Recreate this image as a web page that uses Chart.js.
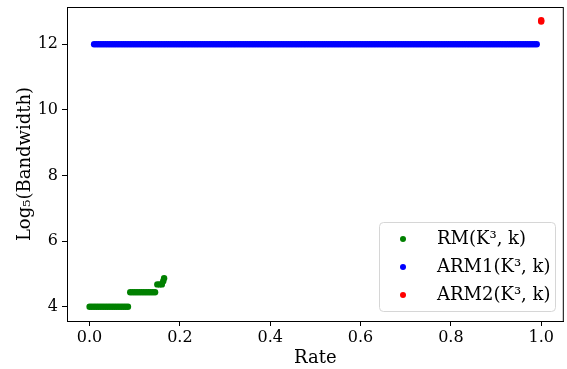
<!DOCTYPE html>
<html>
<head>
<meta charset="utf-8">
<script src="https://cdn.jsdelivr.net/npm/chart.js@4/dist/chart.umd.min.js"></script>
<style>
  html, body { margin: 0; padding: 0; background: #fff; }
  #wrap { width: 567px; height: 369px; }
</style>
</head>
<body>
<div id="wrap"><canvas id="chart" width="567" height="369"></canvas></div>
<script>
// values
const rmRate = [0, 0.005, 0.01, 0.015, 0.02, 0.025, 0.03, 0.035, 0.04, 0.045, 0.05, 0.055, 0.06, 0.065, 0.07, 0.075, 0.08, 0.085,
                0.09, 0.095, 0.1, 0.105, 0.11, 0.115, 0.12, 0.125, 0.13, 0.135, 0.14, 0.145,
                0.15, 0.155, 0.16, 0.163, 0.165];
const rmBw = [4, 4, 4, 4, 4, 4, 4, 4, 4, 4, 4, 4, 4, 4, 4, 4, 4, 4,
              4.44, 4.44, 4.44, 4.44, 4.44, 4.44, 4.44, 4.44, 4.44, 4.44, 4.44, 4.44,
              4.68, 4.68, 4.68, 4.78, 4.87];
const arm1Rate = [0.01, 0.015, 0.02, 0.025, 0.03, 0.035, 0.04, 0.045, 0.05, 0.055, 0.06, 0.065, 0.07, 0.075, 0.08, 0.085, 0.09, 0.095, 0.1,
                  0.105, 0.11, 0.115, 0.12, 0.125, 0.13, 0.135, 0.14, 0.145, 0.15, 0.155, 0.16, 0.165, 0.17, 0.175, 0.18, 0.185, 0.19, 0.195, 0.2,
                  0.205, 0.21, 0.215, 0.22, 0.225, 0.23, 0.235, 0.24, 0.245, 0.25, 0.255, 0.26, 0.265, 0.27, 0.275, 0.28, 0.285, 0.29, 0.295, 0.3,
                  0.305, 0.31, 0.315, 0.32, 0.325, 0.33, 0.335, 0.34, 0.345, 0.35, 0.355, 0.36, 0.365, 0.37, 0.375, 0.38, 0.385, 0.39, 0.395, 0.4,
                  0.405, 0.41, 0.415, 0.42, 0.425, 0.43, 0.435, 0.44, 0.445, 0.45, 0.455, 0.46, 0.465, 0.47, 0.475, 0.48, 0.485, 0.49, 0.495, 0.5,
                  0.505, 0.51, 0.515, 0.52, 0.525, 0.53, 0.535, 0.54, 0.545, 0.55, 0.555, 0.56, 0.565, 0.57, 0.575, 0.58, 0.585, 0.59, 0.595, 0.6,
                  0.605, 0.61, 0.615, 0.62, 0.625, 0.63, 0.635, 0.64, 0.645, 0.65, 0.655, 0.66, 0.665, 0.67, 0.675, 0.68, 0.685, 0.69, 0.695, 0.7,
                  0.705, 0.71, 0.715, 0.72, 0.725, 0.73, 0.735, 0.74, 0.745, 0.75, 0.755, 0.76, 0.765, 0.77, 0.775, 0.78, 0.785, 0.79, 0.795, 0.8,
                  0.805, 0.81, 0.815, 0.82, 0.825, 0.83, 0.835, 0.84, 0.845, 0.85, 0.855, 0.86, 0.865, 0.87, 0.875, 0.88, 0.885, 0.89, 0.895, 0.9,
                  0.905, 0.91, 0.915, 0.92, 0.925, 0.93, 0.935, 0.94, 0.945, 0.95, 0.955, 0.96, 0.965, 0.97, 0.975, 0.98, 0.985, 0.99];
const arm1Bw = arm1Rate.map(() => 12);
const arm2Rate = [1.0, 1.0];
const arm2Bw = [12.69, 12.73];

const seriesNames = ['RM(K\u00b3, k)', 'ARM1(K\u00b3, k)', 'ARM2(K\u00b3, k)'];
const seriesColors = ['#008000', '#0000ff', '#ff0000'];
const xTicks = [0, 0.2, 0.4, 0.6, 0.8, 1.0];
const yTicks = [4, 6, 8, 10, 12];

const serif = "'DejaVu Serif', serif";

function toPoints(xs, ys) {
    return xs.map((x, i) => ({x: x, y: ys[i]}));
}

// matplotlib-style frame and legend box inside the axes
const frameAndLegend = {
    id: 'frameAndLegend',
    afterDraw(chart) {
        const {ctx, chartArea} = chart;
        ctx.save();
        ctx.strokeStyle = '#000';
        ctx.lineWidth = 1;
        ctx.strokeRect(chartArea.left + 0.5, chartArea.top + 0.5,
            chartArea.right - chartArea.left - 1, chartArea.bottom - chartArea.top);

        const bx = 379, by = 222, bw = 176, bh = 89;
        ctx.beginPath();
        ctx.roundRect(bx + 0.5, by + 0.5, bw, bh, 4);
        ctx.fillStyle = 'rgba(255,255,255,0.8)';
        ctx.fill();
        ctx.strokeStyle = '#d6d6d6';
        ctx.stroke();

        ctx.font = '18px ' + serif;
        ctx.textBaseline = 'middle';
        chart.data.datasets.forEach((ds, i) => {
            const cy = by + 17 + i * 28;
            ctx.beginPath();
            ctx.arc(bx + 24, cy, 3, 0, Math.PI * 2);
            ctx.fillStyle = ds.backgroundColor;
            ctx.fill();
            ctx.fillStyle = '#000';
            ctx.fillText(ds.label, bx + 58, cy);
        });
        ctx.restore();
    }
};

new Chart(document.getElementById('chart'), {
    type: 'scatter',
    data: {
        datasets: [
            {label: seriesNames[0], data: toPoints(rmRate, rmBw), backgroundColor: seriesColors[0]},
            {label: seriesNames[1], data: toPoints(arm1Rate, arm1Bw), backgroundColor: seriesColors[1]},
            {label: seriesNames[2], data: toPoints(arm2Rate, arm2Bw), backgroundColor: seriesColors[2]}
        ]
    },
    options: {
        responsive: false,
        animation: false,
        layout: {padding: {top: 7, right: 3, left: 0, bottom: 0}},
        elements: {point: {radius: 3.2, borderWidth: 0, hoverRadius: 3.2}},
        plugins: {
            legend: {display: false},
            tooltip: {enabled: false}
        },
        scales: {
            x: {
                type: 'linear',
                min: -0.05,
                max: 1.05,
                afterBuildTicks(scale) { scale.ticks = xTicks.map(v => ({value: v})); },
                afterFit(scale) {
                    scale.height = 48;
                    scale.paddingLeft = 0;
                    scale.paddingRight = 0;
                },
                grid: {drawOnChartArea: false, drawTicks: true, tickLength: 5, tickColor: '#000'},
                border: {display: true, color: '#000'},
                ticks: {
                    color: '#000',
                    font: {family: serif, size: 16},
                    padding: 2,
                    maxRotation: 0,
                    callback: v => v.toFixed(1)
                },
                title: {
                    display: true,
                    text: 'Rate',
                    color: '#000',
                    font: {family: serif, size: 18},
                    padding: {top: 0, bottom: 0}
                }
            },
            y: {
                type: 'linear',
                min: 3.565,
                max: 13.135,
                afterBuildTicks(scale) { scale.ticks = yTicks.map(v => ({value: v})); },
                afterFit(scale) {
                    scale.width = 67;
                    scale.paddingTop = 0;
                    scale.paddingBottom = 0;
                },
                grid: {drawOnChartArea: false, drawTicks: true, tickLength: 5, tickColor: '#000'},
                border: {display: true, color: '#000'},
                ticks: {
                    color: '#000',
                    font: {family: serif, size: 16},
                    padding: 4,
                    callback: v => String(v)
                },
                title: {
                    display: true,
                    text: 'Log\u2085(Bandwidth)',
                    color: '#000',
                    font: {family: serif, size: 18},
                    padding: {top: 15, bottom: 0}
                }
            }
        }
    },
    plugins: [frameAndLegend]
});
</script>
</body>
</html>
